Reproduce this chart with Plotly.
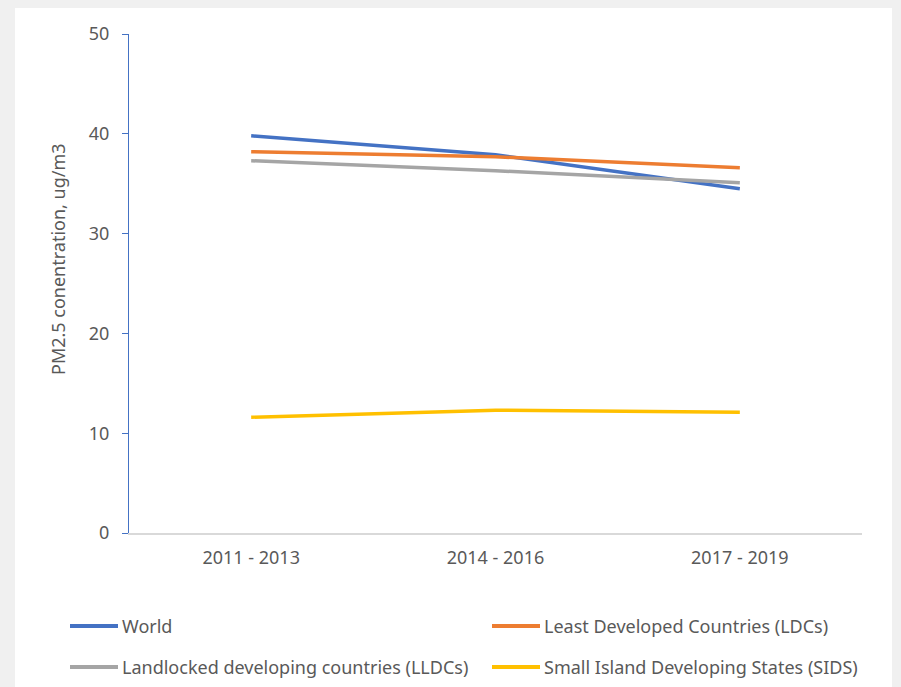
import plotly.graph_objects as go

categories = ["2011 - 2013", "2014 - 2016", "2017 - 2019"]
series_names = [
    "World",
    "Least Developed Countries (LDCs)",
    "Landlocked developing countries (LLDCs)",
    "Small Island Developing States (SIDS)",
]
world = [39.8, 37.9, 34.5]
ldcs = [38.2, 37.7, 36.6]
lldcs = [37.3, 36.3, 35.1]
sids = [11.6, 12.3, 12.1]
colors = ["#4472c4", "#ed7d31", "#a5a5a5", "#ffc000"]
y_ticks = [0, 10, 20, 30, 40, 50]

W, H = 901, 687
L, R, T, B = 129, 39, 34, 154
PW, PH = W - L - R, H - T - B

def px(x):
    return (x - L) / PW

def py(y):
    return (H - B - y) / PH

FONT = "Noto Sans"
FS = 18
TXT = "#595959"

fig = go.Figure()
all_series = [world, ldcs, lldcs, sids]
for name, vals, c in zip(series_names, all_series, colors):
    fig.add_trace(go.Scatter(
        x=categories, y=vals, mode="lines", name=name,
        line=dict(color=c, width=3.5), showlegend=False,
    ))

shapes = [
    dict(type="rect", xref="paper", yref="paper",
         x0=px(15), x1=px(892), y0=py(8), y1=py(700),
         fillcolor="white", line=dict(width=0), layer="below"),
]
annotations = [
    dict(text="PM2.5 conentration, ug/m3", textangle=-90,
         xref="paper", yref="paper", x=px(58), y=py(259),
         xanchor="center", yanchor="middle", showarrow=False,
         font=dict(family=FONT, size=FS, color=TXT)),
]
# legend (2x2)
leg_pos = [(70, 626), (492, 626), (70, 667), (492, 667)]
for (lx, ly), name, c in zip(leg_pos, series_names, colors):
    shapes.append(dict(type="line", xref="paper", yref="paper",
                       x0=px(lx), x1=px(lx + 48), y0=py(ly), y1=py(ly),
                       line=dict(color=c, width=3.8)))
    annotations.append(dict(text=name, xref="paper", yref="paper",
                            x=px(lx + 50), y=py(ly), xanchor="left", yanchor="middle",
                            showarrow=False,
                            font=dict(family=FONT, size=FS, color=TXT)))

fig.update_layout(
    width=W, height=H,
    margin=dict(l=L, r=R, t=T, b=B),
    paper_bgcolor="#f0f0f0", plot_bgcolor="white",
    font=dict(family=FONT, size=FS, color=TXT),
    shapes=shapes, annotations=annotations,
    showlegend=False,
)
fig.update_xaxes(
    type="category", range=[-0.5, 2.5], showgrid=False,
    showline=True, linecolor="#d9d9d9", linewidth=1.5,
    ticks="", ticklabelstandoff=8,
    tickfont=dict(family=FONT, size=FS, color=TXT), zeroline=False,
)
fig.update_yaxes(
    range=[0, 50], tickvals=y_ticks, showgrid=False,
    showline=True, linecolor="#4472c4", linewidth=1.2,
    ticks="outside", ticklen=6, tickcolor="#4472c4", tickwidth=1.2,
    ticklabelstandoff=9,
    tickfont=dict(family=FONT, size=FS, color=TXT), zeroline=False,
)

fig.write_html("out.html")
